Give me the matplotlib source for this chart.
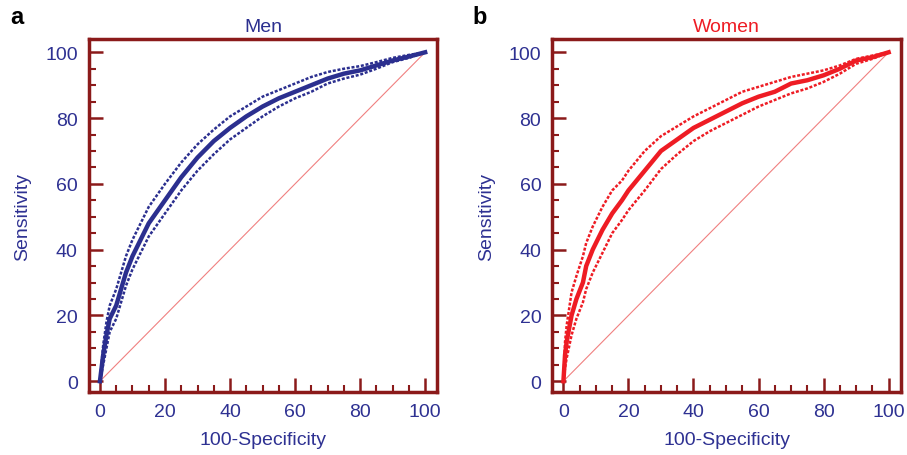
import matplotlib
matplotlib.use("Agg")
import matplotlib.pyplot as plt
from matplotlib.ticker import MultipleLocator

plt.rcParams['font.family'] = ['Liberation Sans', 'DejaVu Sans']

# ---- data ----
men_x = [0, 1, 2, 3, 5, 8, 10, 12, 15, 20, 25, 30, 35, 40, 45, 50, 55, 60, 65, 70, 75, 80, 85, 90, 95, 100]
men_center = [0, 8, 14, 19, 23, 33, 38, 42, 48, 55, 62, 68, 73, 77, 80.5, 83.5, 86, 88, 90, 92, 93.5, 94.5, 96, 97.5, 98.7, 100]
men_upper = [0, 11, 18, 23, 28, 38, 43, 47, 53, 60, 66.5, 72, 76.5, 80.5, 83.5, 86.5, 88.5, 90.5, 92.5, 94, 95, 95.8, 97, 98.3, 99.2, 100]
men_lower = [0, 5, 10, 15, 19, 29, 34, 38, 44, 51, 58, 64, 69, 73.5, 77, 80.5, 83.5, 86, 88, 90.5, 92, 93.2, 95, 97, 98.3, 100]

women_x = [0, 0.5, 1, 2.5, 4, 6, 7, 9, 12, 15, 18, 20, 25, 30, 35, 40, 45, 50, 55, 60, 65, 70, 75, 80, 85, 90, 95, 100]
women_center = [0, 8, 12, 20, 25, 30, 35, 40, 46, 51, 55, 58, 64, 70, 73.5, 77, 79.5, 82, 84.5, 86.5, 88, 90.5, 91.5, 93, 95, 97.5, 98.5, 100]
women_upper = [0, 12, 17, 27, 32, 38, 42, 47, 53, 58, 61, 64, 70, 74.5, 77.5, 80.5, 83, 85.5, 88, 89.5, 91, 92.5, 93.5, 94.5, 96, 98, 99, 100]
women_lower = [0, 4, 7, 14, 19, 24, 28, 33, 39, 45, 49, 52, 58, 64.5, 69, 73, 76, 78.5, 81, 83.5, 85.5, 87.5, 89, 91, 93.5, 96.5, 98, 100]

diag = [0, 100]
ticks = [0, 20, 40, 60, 80, 100]

panels = [
    ("a", "Men", men_x, men_center, men_upper, men_lower, "#2B2F8F", "#2B2F8F"),
    ("b", "Women", women_x, women_center, women_upper, women_lower, "#EE1C24", "#EE1C24"),
]

spine_c = "#8B1A1A"
label_c = "#2E3192"

fig = plt.figure(figsize=(9.07, 4.56), dpi=100)
lefts = [0.098, 0.609]
letter_x = [10, 472]
for (letter, title, x, c, u, l, col, tcol), left, lx in zip(panels, lefts, letter_x):
    ax = fig.add_axes([left, 0.138, 0.384, 0.774])
    ax.plot(diag, diag, color="#F08080", lw=0.8, zorder=1)
    ax.plot(x, u, color=col, lw=1.8, ls=(0, (1.2, 0.7)), zorder=2)
    ax.plot(x, l, color=col, lw=1.8, ls=(0, (1.2, 0.7)), zorder=2)
    ax.plot(x, c, color=col, lw=3.2, zorder=3)
    ax.set_xlim(-3.4, 103.7)
    ax.set_ylim(-3.3, 104)
    ax.set_xticks(ticks)
    ax.set_yticks(ticks)
    ax.xaxis.set_minor_locator(MultipleLocator(5))
    ax.yaxis.set_minor_locator(MultipleLocator(5))
    ax.tick_params(which='major', direction='in', length=10, width=1.8, color=spine_c,
                   labelcolor=label_c, labelsize=14, pad=8)
    ax.tick_params(which='minor', direction='in', length=5, width=1.5, color=spine_c)
    ax.tick_params(top=False, right=False, which='both')
    for s in ax.spines.values():
        s.set_color(spine_c)
        s.set_linewidth(2.5)
    ax.set_xlabel("100-Specificity", color=label_c, fontsize=14, labelpad=8)
    ax.set_ylabel("Sensitivity", color=label_c, fontsize=14, labelpad=10)
    ax.set_title(title, color=tcol, fontsize=14, pad=6)
    fig.text(lx / 907, 1 - 18 / 456, letter, fontsize=17, fontweight='bold',
             color='black', ha='left', va='center')

fig.savefig("out.png", dpi=100)
